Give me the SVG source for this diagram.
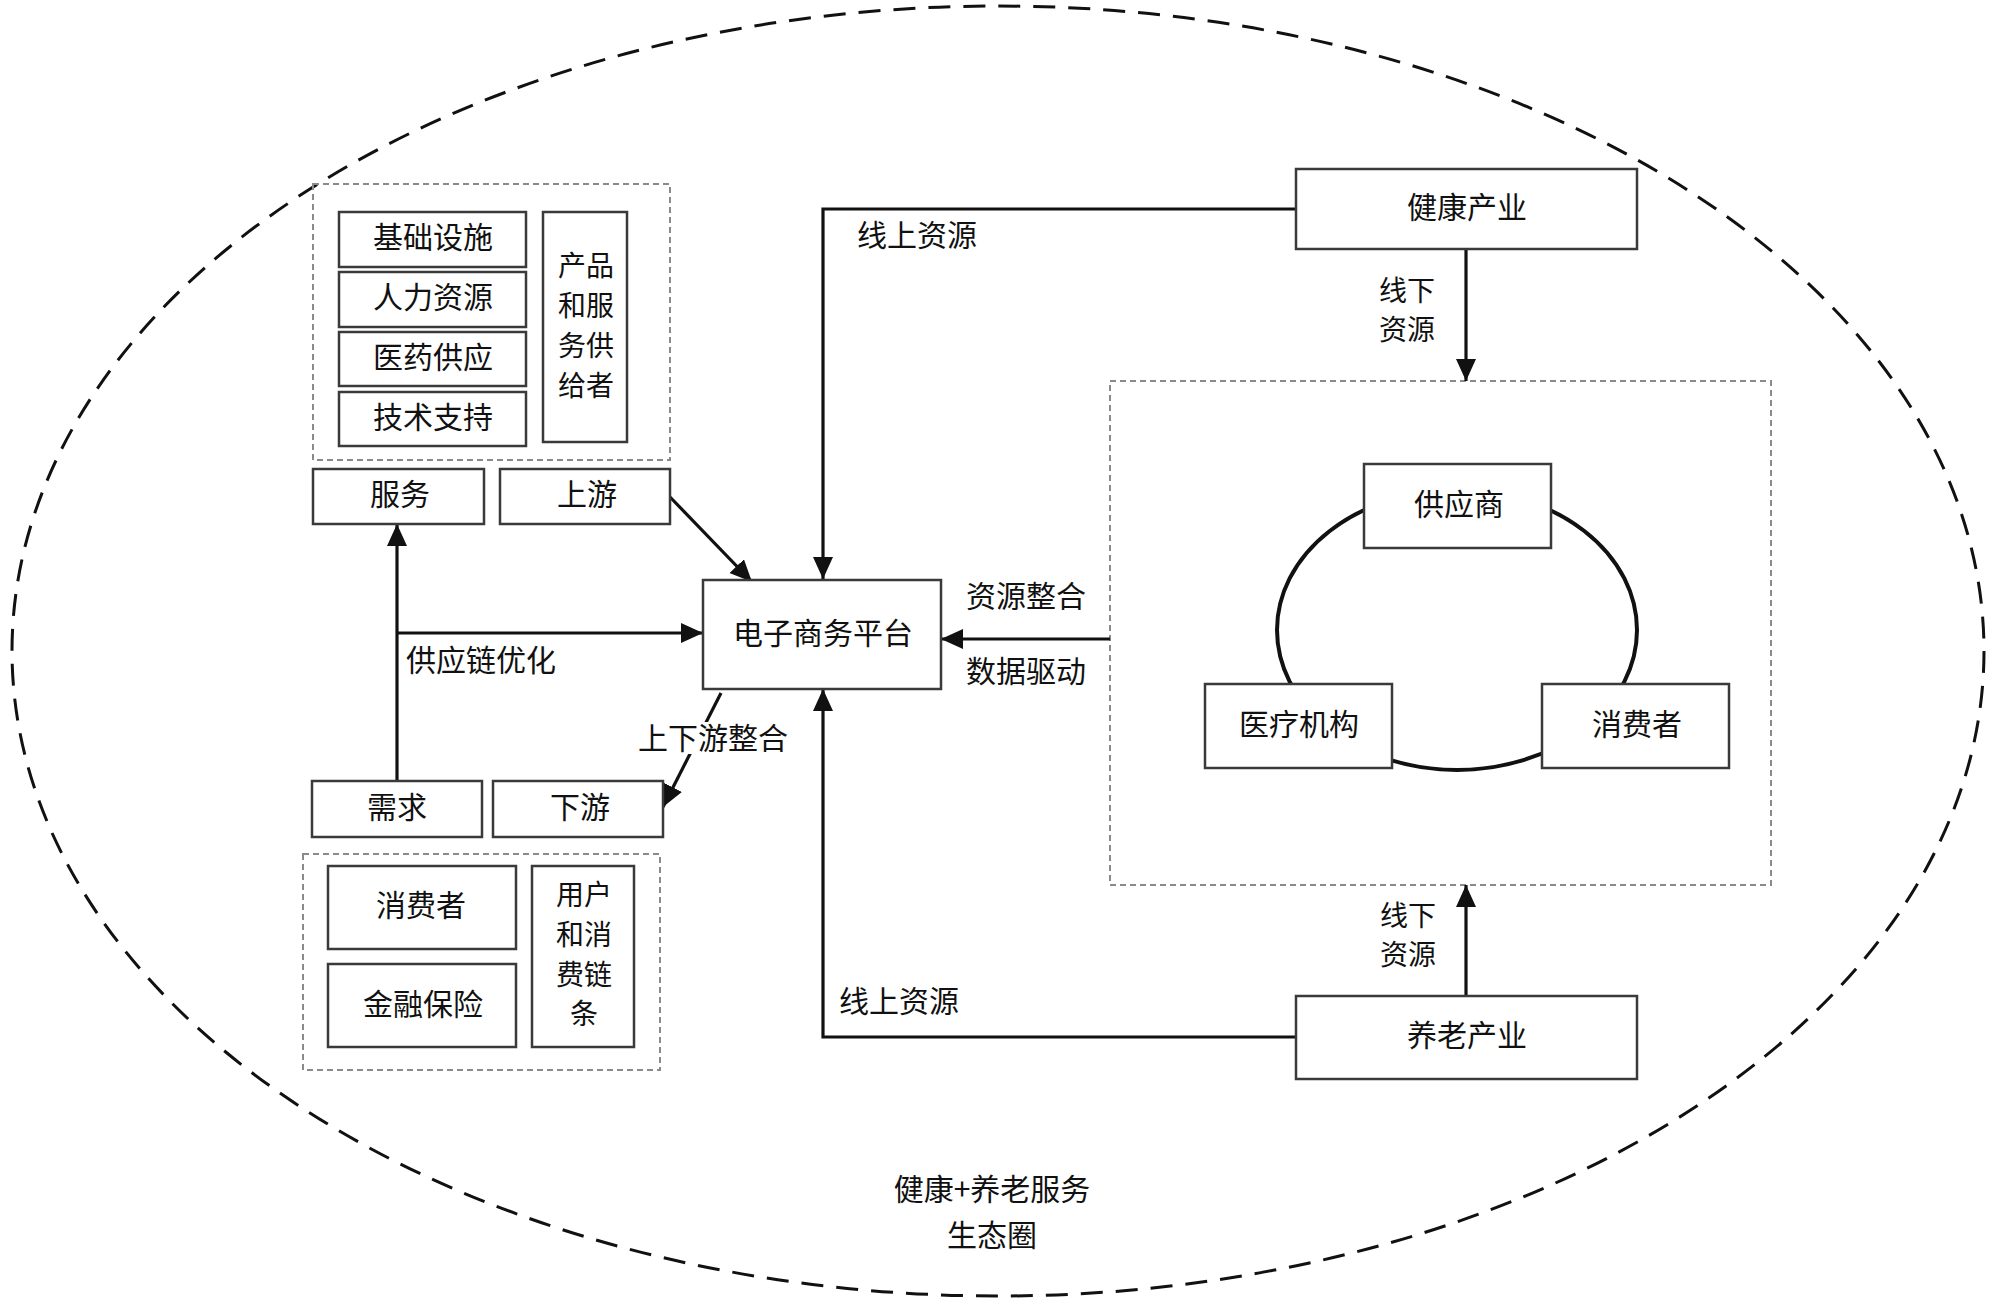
<svg xmlns="http://www.w3.org/2000/svg" width="2000" height="1311" viewBox="0 0 2000 1311">
<style>
.box{fill:#fff;stroke:#3a3a3a;stroke-width:2.5}
.grp{fill:none;stroke:#8a8a8a;stroke-width:2;stroke-dasharray:6 4}
.ln{fill:none;stroke:#111;stroke-width:3.2}
.t{font-family:"Noto Sans CJK SC","Noto Sans",sans-serif;font-size:30px;fill:#111;text-anchor:middle;dominant-baseline:central}
.s{font-size:28px}
.tl{font-family:"Noto Sans CJK SC","Noto Sans",sans-serif;font-size:30px;fill:#111;text-anchor:start;dominant-baseline:central}
</style>
<defs>
<marker id="ah" markerUnits="userSpaceOnUse" markerWidth="24" markerHeight="22" refX="22" refY="10" orient="auto">
<path d="M0,0 L22,10 L0,20 Z" fill="#111"/>
</marker>
</defs>
<rect width="2000" height="1311" fill="#fff"/>
<ellipse id="ecosystem" cx="998" cy="651" rx="986" ry="645" fill="none" stroke="#111" stroke-width="3" stroke-dasharray="22 13"/>

<g id="upper-group">
<rect class="grp" x="313" y="184" width="357" height="276"/>
</g>
<g id="lower-group">
<rect class="grp" x="303" y="854" width="357" height="216"/>
</g>
<g id="right-group">
<rect class="grp" x="1110" y="381" width="661" height="504"/>
</g>

<g id="connectors">
<ellipse cx="1457" cy="630" rx="180" ry="140" fill="none" stroke="#111" stroke-width="4"/>
<polyline class="ln" points="1296,209 823,209 823,579" marker-end="url(#ah)"/>
<polyline class="ln" points="1296,1037 823,1037 823,689" marker-end="url(#ah)"/>
<line class="ln" x1="1466" y1="249" x2="1466" y2="381" marker-end="url(#ah)"/>
<line class="ln" x1="1466" y1="996" x2="1466" y2="885" marker-end="url(#ah)"/>
<line class="ln" x1="1110" y1="639" x2="941" y2="639" marker-end="url(#ah)"/>
<line class="ln" x1="670" y1="497" x2="752" y2="582" marker-end="url(#ah)"/>
<line class="ln" x1="721" y1="693" x2="663" y2="807" marker-end="url(#ah)"/>
<line class="ln" x1="397" y1="781" x2="397" y2="524" marker-end="url(#ah)"/>
<line class="ln" x1="397" y1="633" x2="703" y2="633" marker-end="url(#ah)"/>
<rect x="634" y="722" width="158" height="32" fill="#fff"/>
<text class="t" x="713" y="736">上下游整合</text>
<text class="tl" x="406" y="658">供应链优化</text>
<text class="tl" x="857" y="233">线上资源</text>
<text class="tl" x="839" y="999">线上资源</text>
<text class="t s" x="1407" y="289">线下</text>
<text class="t s" x="1407" y="328">资源</text>
<text class="t s" x="1408" y="914">线下</text>
<text class="t s" x="1408" y="953">资源</text>
<text class="tl" x="966" y="594">资源整合</text>
<text class="tl" x="966" y="669">数据驱动</text>
</g>

<g id="n-jichu"><rect class="box" x="339" y="212" width="187" height="55"/><text class="t" x="433" y="235">基础设施</text></g>
<g id="n-renli"><rect class="box" x="339" y="272" width="187" height="55"/><text class="t" x="433" y="295">人力资源</text></g>
<g id="n-yiyao"><rect class="box" x="339" y="332" width="187" height="54"/><text class="t" x="433" y="355">医药供应</text></g>
<g id="n-jishu"><rect class="box" x="339" y="392" width="187" height="54"/><text class="t" x="433" y="415">技术支持</text></g>
<g id="n-gongji"><rect class="box" x="543" y="212" width="84" height="230"/>
<text class="t s" x="586" y="264">产品</text><text class="t s" x="586" y="304">和服</text><text class="t s" x="586" y="344">务供</text><text class="t s" x="586" y="384">给者</text></g>
<g id="n-fuwu"><rect class="box" x="313" y="469" width="171" height="55"/><text class="t" x="400" y="492">服务</text></g>
<g id="n-shangyou"><rect class="box" x="500" y="469" width="170" height="55"/><text class="t" x="587" y="492">上游</text></g>
<g id="n-platform"><rect class="box" x="703" y="580" width="238" height="109"/><text class="t" x="823" y="631">电子商务平台</text></g>
<g id="n-xuqiu"><rect class="box" x="312" y="781" width="170" height="56"/><text class="t" x="397" y="805">需求</text></g>
<g id="n-xiayou"><rect class="box" x="493" y="781" width="170" height="56"/><text class="t" x="580" y="805">下游</text></g>
<g id="n-xiaofei1"><rect class="box" x="328" y="866" width="188" height="83"/><text class="t" x="421" y="903">消费者</text></g>
<g id="n-jinrong"><rect class="box" x="328" y="964" width="188" height="83"/><text class="t" x="423" y="1002">金融保险</text></g>
<g id="n-yonghu"><rect class="box" x="532" y="866" width="102" height="181"/>
<text class="t s" x="584" y="893">用户</text><text class="t s" x="584" y="933">和消</text><text class="t s" x="584" y="973">费链</text><text class="t s" x="584" y="1012">条</text></g>
<g id="n-jiankang"><rect class="box" x="1296" y="169" width="341" height="80"/><text class="t" x="1467" y="205">健康产业</text></g>
<g id="n-yanglao"><rect class="box" x="1296" y="996" width="341" height="83"/><text class="t" x="1467" y="1033">养老产业</text></g>
<g id="n-gongying"><rect class="box" x="1364" y="464" width="187" height="84"/><text class="t" x="1459" y="502">供应商</text></g>
<g id="n-yiliao"><rect class="box" x="1205" y="684" width="187" height="84"/><text class="t" x="1299" y="722">医疗机构</text></g>
<g id="n-xiaofei2"><rect class="box" x="1542" y="684" width="187" height="84"/><text class="t" x="1637" y="722">消费者</text></g>

<g id="caption">
<text class="t" x="992" y="1187">健康+养老服务</text>
<text class="t" x="992" y="1233">生态圈</text>
</g>
</svg>
